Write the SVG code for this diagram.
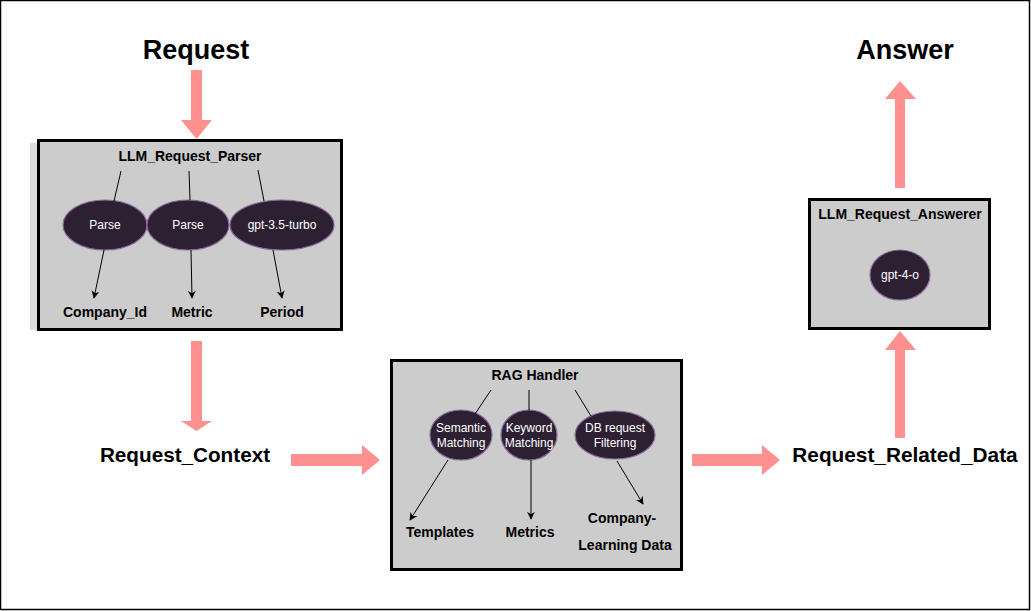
<svg xmlns="http://www.w3.org/2000/svg" width="1031" height="611" viewBox="0 0 1031 611">
<defs>
<style>
.big{font-family:"Liberation Sans",Arial,sans-serif;font-weight:bold;fill:#000;text-anchor:middle}
.lbl{font-family:"Liberation Sans",Arial,sans-serif;font-weight:bold;font-size:14px;fill:#000;text-anchor:middle}
.el{fill:#2d2033;stroke:#8a6a9a;stroke-width:1.2}
.et{font-family:"Liberation Sans",Arial,sans-serif;font-size:12px;fill:#fff;text-anchor:middle}
.box{fill:#cccccc;stroke:#000;stroke-width:3}
.ln{stroke:#000;stroke-width:1;fill:none}
.ar{stroke:#000;stroke-width:1;fill:none;marker-end:url(#ah)}
.pk{fill:#ff9090}
</style>
<marker id="ah" viewBox="0 0 10 10" refX="9" refY="5" markerWidth="8" markerHeight="8" orient="auto" markerUnits="userSpaceOnUse">
<path d="M0,0 L10,5 L0,10 L3,5 Z" fill="#000"/>
</marker>
</defs>
<rect x="0" y="0" width="1031" height="611" fill="#fff"/>
<rect x="0.5" y="0.5" width="1029" height="609" fill="none" stroke="#000" stroke-width="1.5"/>

<g id="title-request"><text class="big" x="196" y="59" font-size="27">Request</text></g>
<g id="title-answer"><text class="big" x="905" y="59" font-size="27">Answer</text></g>
<g id="request-context"><text class="big" x="185" y="462" font-size="20.7">Request_Context</text></g>
<g id="request-related-data"><text class="big" x="905" y="462" font-size="20.8">Request_Related_Data</text></g>

<g id="llm-request-parser">
<rect x="30" y="143" width="300" height="187" fill="#dcdcdc"/>
<rect class="box" x="38.5" y="140.5" width="303" height="189"/>
<text class="lbl" x="190" y="161" font-size="13.8">LLM_Request_Parser</text>
<g id="parse1"><ellipse class="el" cx="105" cy="225" rx="42" ry="25"/><text class="et" x="105" y="229">Parse</text></g>
<g id="parse2"><ellipse class="el" cx="188" cy="225" rx="41" ry="25"/><text class="et" x="188" y="229">Parse</text></g>
<g id="gpt35"><ellipse class="el" cx="282" cy="225" rx="52" ry="25"/><text class="et" x="282" y="229">gpt-3.5-turbo</text></g>
<text class="lbl" x="105" y="317">Company_Id</text>
<text class="lbl" x="192" y="317">Metric</text>
<text class="lbl" x="282" y="317">Period</text>
</g>

<g id="rag-handler">
<rect class="box" x="391.5" y="360.5" width="290" height="209"/>
<text class="lbl" x="535" y="380">RAG Handler</text>
<g id="semantic"><ellipse class="el" cx="461" cy="435" rx="31" ry="25"/><text class="et" x="461" y="432">Semantic</text><text class="et" x="461" y="447">Matching</text></g>
<g id="keyword"><ellipse class="el" cx="529" cy="435" rx="28" ry="25"/><text class="et" x="529" y="432">Keyword</text><text class="et" x="529" y="447">Matching</text></g>
<g id="dbfilter"><ellipse class="el" cx="615" cy="435" rx="40" ry="24"/><text class="et" x="615" y="432">DB request</text><text class="et" x="615" y="447">Filtering</text></g>
<text class="lbl" x="440" y="537">Templates</text>
<text class="lbl" x="530" y="537">Metrics</text>
<text class="lbl" x="622" y="523">Company-</text>
<text class="lbl" x="625" y="550">Learning Data</text>
</g>

<g id="llm-request-answerer">
<rect class="box" x="809.5" y="199.5" width="180" height="129"/>
<text class="lbl" x="900" y="219" font-size="13.5">LLM_Request_Answerer</text>
<g id="gpt4o"><ellipse class="el" cx="900" cy="275" rx="30" ry="25"/><text class="et" x="900" y="279">gpt-4-o</text></g>
</g>

<g id="connectors">
<path class="pk" d="M191,70 H202 V120 H212 L196.5,139 L181,120 H191 Z"/>
<path class="pk" d="M191,341 H202 V421 H212 L196.5,431 L181,421 H191 Z"/>
<path class="pk" d="M291,454 H362 V445 L380,460 L362,475 V466 H291 Z"/>
<path class="pk" d="M692,454 H762 V445 L780,460 L762,475 V466 H692 Z"/>
<path class="pk" d="M895,438 V350 H885 L900,331 L916,350 H905 V438 Z"/>
<path class="pk" d="M895,188 V99 H885 L900,81 L916,99 H905 V188 Z"/>

<line class="ln" x1="121" y1="171" x2="114" y2="201"/>
<line class="ln" x1="189" y1="171" x2="190" y2="200"/>
<line class="ln" x1="258" y1="170" x2="264" y2="201"/>
<line class="ar" x1="104" y1="250" x2="94" y2="298"/>
<line class="ar" x1="191" y1="250" x2="192" y2="298"/>
<line class="ar" x1="273" y1="250" x2="282" y2="298"/>

<line class="ln" x1="491" y1="390" x2="475" y2="414"/>
<line class="ln" x1="529" y1="390" x2="529" y2="410"/>
<line class="ln" x1="575" y1="390" x2="591" y2="416"/>
<line class="ar" x1="448" y1="460" x2="410" y2="520"/>
<line class="ar" x1="531" y1="460" x2="531" y2="519"/>
<line class="ar" x1="617" y1="461" x2="643" y2="504"/>
</g>
</svg>
